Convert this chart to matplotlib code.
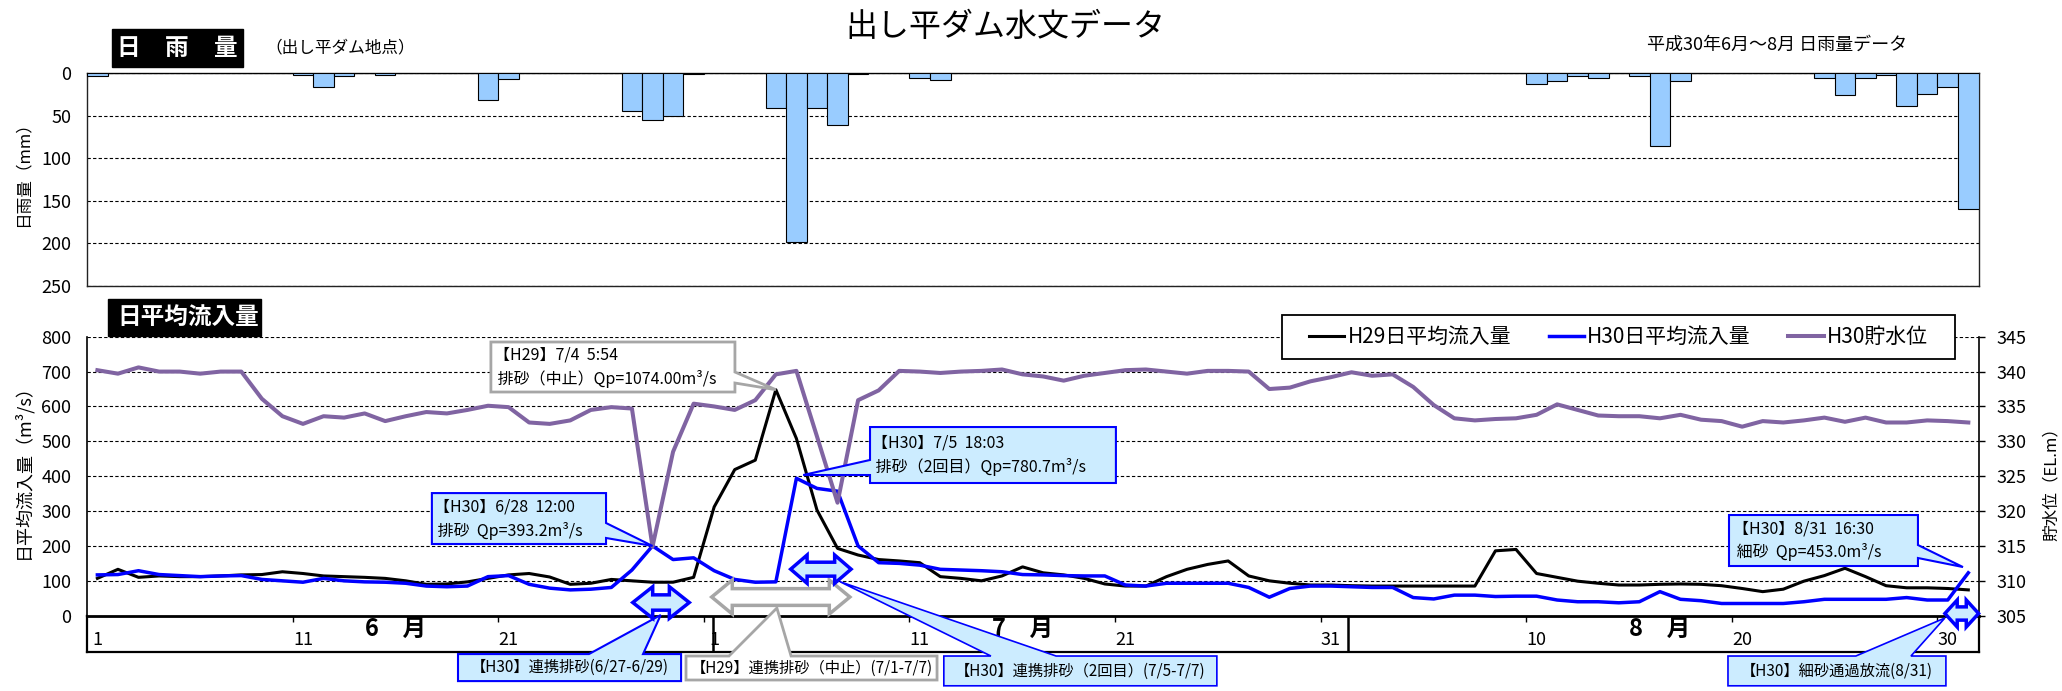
import matplotlib
matplotlib.use('Agg')
import matplotlib.pyplot as plt
from matplotlib.patches import Polygon, Rectangle
import numpy as np

plt.rcParams['font.family'] = ['Noto Sans CJK JP', 'DejaVu Sans']

# ---- data (6/1 - 8/31, daily) ----
rain_jun = [3, 0, 0, 0, 0, 0, 0, 0, 0, 0, 1.5, 16, 3, 0, 1.5, 0, 0, 0, 0, 31,
            7, 0, 0, 0, 0, 0, 44, 55, 50, 1]
rain_jul = [0, 0, 0, 41, 198, 41, 61, 1, 0, 0, 6, 8, 0, 0, 0, 0, 0, 0, 0, 0,
            0, 0, 0, 0, 0, 0, 0, 0, 0, 0, 0]
rain_aug = [0, 0, 0, 0, 0, 0, 0, 0, 0, 12, 9, 3, 5, 0, 3, 86, 9, 0, 0, 0,
            0, 0, 0, 6, 26, 6, 1.5, 39, 24, 16, 160]

h29_jun = [107, 133, 110, 114, 112, 112, 114, 117, 118, 126, 121, 114, 112, 110, 107,
           100, 90, 91, 97, 107, 117, 121, 111, 90, 93, 104, 100, 96, 96, 110]
h29_jul = [312, 419, 446, 648, 508, 303, 193, 174, 161, 157, 152, 112, 107, 100, 114,
           140, 123, 117, 107, 91, 85, 85, 112, 133, 147, 157, 114, 100, 93, 88, 88]
h29_aug = [86, 85, 85, 85, 85, 85, 85, 186, 190, 121, 110, 99, 93, 88, 88, 90,
           91, 90, 86, 78, 69, 76, 99, 115, 136, 112, 86, 80, 80, 78, 74]

h30_jun = [117, 118, 129, 118, 115, 112, 114, 115, 104, 100, 96, 107, 100, 97, 96,
           93, 85, 83, 85, 112, 115, 90, 79, 74, 76, 81, 131, 200, 161, 166]
h30_jul = [129, 104, 96, 97, 394, 365, 357, 200, 152, 150, 145, 133, 131, 129, 126,
           118, 117, 115, 114, 114, 88, 85, 93, 93, 93, 93, 81, 53, 78, 85, 85]
h30_aug = [83, 81, 81, 52, 48, 59, 59, 55, 56, 56, 45, 40, 40, 37, 40, 69,
           47, 43, 35, 35, 35, 35, 40, 47, 47, 47, 47, 52, 45, 45, 123]

lev_jun = [340.2, 339.7, 340.6, 340.0, 340.0, 339.7, 340.0, 340.0, 336.1, 333.6,
           332.5, 333.6, 333.4, 334.0, 332.9, 333.6, 334.2, 334.0, 334.5, 335.1,
           334.9, 332.7, 332.5, 333.0, 334.5, 334.9, 334.7, 314.9, 328.5, 335.4]
lev_jul = [335.0, 334.5, 335.9, 339.6, 340.1, 330.7, 321.2, 335.9, 337.3, 340.1,
           340.0, 339.8, 340.0, 340.1, 340.3, 339.6, 339.3, 338.7, 339.4, 339.8,
           340.2, 340.3, 340.0, 339.7, 340.1, 340.1, 340.0, 337.5, 337.7, 338.6, 339.2]
lev_aug = [339.9, 339.4, 339.6, 337.8, 335.2, 333.3, 333.0, 333.2, 333.3, 333.8,
           335.3, 334.5, 333.7, 333.6, 333.6, 333.3, 333.8, 333.1, 332.9, 332.1,
           332.9, 332.7, 333.0, 333.4, 332.8, 333.4, 332.7, 332.7, 333.0, 332.9, 332.7]

rain = rain_jun + rain_jul + rain_aug
h29 = h29_jun + h29_jul + h29_aug
h30 = h30_jun + h30_jul + h30_aug
level = lev_jun + lev_jul + lev_aug

tick_days = [0, 10, 20, 30, 40, 50, 60, 70, 80, 90]
tick_labels = ['1', '11', '21', '1', '11', '21', '31', '10', '20', '30']
months = ['6　月', '7　月', '8　月']
month_mid = [14.5, 45.0, 76.0]

BLUE = '#0000FF'
PURPLE = '#8064A2'
GRAY = '#A6A6A6'
LBLUE = '#CCECFF'

# ---- layout helpers (pixel -> figure fraction) ----
W, H = 2062, 691
def fx(p):
    return p / W
def fy(p):
    return 1 - p / H

fig = plt.figure(figsize=(W / 100, H / 100), dpi=100)
L, R = 87.1, 1978.6
days = np.arange(len(rain))
xlim = (-0.5, len(rain) - 0.5)

ax_b = fig.add_axes([fx(L), fy(651.7), fx(R) - fx(L), 36 / H])
ax_r = fig.add_axes([fx(L), fy(286), fx(R) - fx(L), (286 - 73.3) / H])
ax_q = fig.add_axes([fx(L), fy(615.7), fx(R) - fx(L), (615.7 - 336.7) / H])
ax_l = ax_q.twinx()

dash = (0, (3, 2))

# ---- rainfall ----
ax_r.bar(days, rain, width=1.0, color='#99CCFF', edgecolor='black', linewidth=0.8, zorder=3)
ax_r.set_xlim(xlim)
ax_r.set_ylim(250, 0)
ax_r.set_yticks(range(0, 251, 50))
ax_r.set_xticks([])
ax_r.tick_params(axis='y', length=0, pad=11.5, labelsize=13)
ax_r.yaxis.grid(True, linestyle=dash, color='black', linewidth=0.8)
for s in ax_r.spines.values():
    s.set_linewidth(1.0)
    s.set_color('#222222')

# ---- inflow / level ----
l1, = ax_q.plot(days, h29, color='black', lw=2.2, label='H29日平均流入量')
l2, = ax_q.plot(days, h30, color=BLUE, lw=2.5, label='H30日平均流入量')
l3, = ax_l.plot(days, level, color=PURPLE, lw=2.9, label='H30貯水位')

ax_q.set_xlim(xlim)
ax_q.set_ylim(0, 800)
ax_q.set_yticks(range(0, 801, 100))
ax_q.set_xticks([])
ax_q.tick_params(axis='y', length=0, pad=11.5, labelsize=13)
ax_q.yaxis.grid(True, linestyle=dash, color='black', linewidth=0.8)
ax_q.spines['top'].set_visible(False)
ax_q.spines['right'].set_visible(False)
ax_q.spines['left'].set_linewidth(1.2)
ax_q.spines['bottom'].set_linewidth(2.0)

ax_l.set_ylim(305, 345)
ax_l.set_yticks(range(305, 346, 5))
ax_l.tick_params(axis='y', length=4.5, width=1, pad=8.5, labelsize=13)
for k in ['top', 'left', 'bottom']:
    ax_l.spines[k].set_visible(False)
ax_l.spines['right'].set_linewidth(1.2)

# ---- date band ----
ax_b.set_xlim(xlim)
ax_b.set_ylim(0, 1)
ax_b.set_yticks([])
ax_b.set_xticks([d - 0.5 for d in tick_days[1:]])
ax_b.tick_params(axis='x', top=True, bottom=False, direction='in', length=4, width=1,
                 labelbottom=False)
for s in ax_b.spines.values():
    s.set_linewidth(1.6)
for d, t in zip(tick_days, tick_labels):
    ax_b.text(d, 0.32, t, ha='center', va='center', fontsize=13)
for m, x in zip(months, month_mid):
    ax_b.text(x, 0.62, m, ha='center', va='center', fontsize=17, fontweight='bold')
ax_b.axvline(29.95, color='black', lw=1.8)
ax_b.axvline(60.81, color='black', lw=1.8)

# ---- titles / headers ----
fig.text(fx(1005), fy(27), '出し平ダム水文データ', fontsize=23, ha='center', va='center')
fig.text(fx(1777), fy(45), '平成30年6月～8月 日雨量データ', fontsize=13, ha='center', va='center')
fig.text(fx(340), fy(48), '（出し平ダム地点）', fontsize=12, ha='center', va='center')
fig.add_artist(Rectangle((fx(112), fy(67)), fx(243) - fx(112), 38 / H,
                         transform=fig.transFigure, color='black'))
for ch, x in zip(['日', '雨', '量'], [128, 177, 226]):
    fig.text(fx(x), fy(48), ch, color='white', fontsize=17, fontweight='bold',
             ha='center', va='center')
fig.add_artist(Rectangle((fx(108), fy(336)), fx(261) - fx(108), 37 / H,
                         transform=fig.transFigure, color='black'))
fig.text(fx(188), fy(318), '日平均流入量', color='white', fontsize=17, fontweight='bold',
         ha='center', va='center')

fig.text(fx(23), fy(170), '日雨量（mm）', rotation=90, fontsize=12, ha='center', va='center')
fig.text(fx(23), fy(467), '日平均流入量（m³/s）', rotation=90, fontsize=13, ha='center', va='center')
fig.text(fx(2051), fy(480), '貯水位（EL.m）', rotation=90, fontsize=12, ha='center', va='center')

# ---- legend ----
ax_l.add_patch(Rectangle((fx(1282), fy(359)), fx(1955) - fx(1282), 44 / H,
                         transform=fig.transFigure, fc='white', ec='black', lw=1.3,
                         zorder=5.5, clip_on=False))
leg = ax_l.legend([l1, l2, l3], [l1.get_label(), l2.get_label(), l3.get_label()],
                  loc='center', bbox_to_anchor=(fx(1618.5), fy(337)),
                  bbox_transform=fig.transFigure, ncol=3, fontsize=15, frameon=False,
                  handlelength=1.7, handletextpad=0.15, columnspacing=1.8)
leg.set_zorder(6)

# ---- callouts ----
def callout(x0, x1, y0, y1, side, a, b, tip, fc, ec, lw=1.5):
    if side == 'right':
        pts = [(x0, y0), (x1, y0), (x1, a), tip, (x1, b), (x1, y1), (x0, y1)]
    elif side == 'left':
        pts = [(x0, y0), (x1, y0), (x1, y1), (x0, y1), (x0, b), tip, (x0, a)]
    else:
        pts = [(x0, y0), (x1, y0), (x1, y1), (b, y1), tip, (a, y1), (x0, y1)]
    ax_l.add_patch(Polygon(pts, closed=True, fc=fc, ec=ec, lw=lw, joinstyle='miter',
                           transform=ax_q.transData, clip_on=False, zorder=4))

def darrow(x0, x1, yc, hh, sh, hl, fc, ec, z=4.5):
    pts = [(x0, yc), (x0 + hl, yc + hh), (x0 + hl, yc + sh), (x1 - hl, yc + sh),
           (x1 - hl, yc + hh), (x1, yc), (x1 - hl, yc - hh), (x1 - hl, yc - sh),
           (x0 + hl, yc - sh), (x0 + hl, yc - hh)]
    ax_l.add_patch(Polygon(pts, closed=True, fc=fc, ec=ec, lw=2.5, joinstyle='miter',
                           transform=ax_q.transData, clip_on=False, zorder=z))

def ctext(x, y, s, ha='left', size=11.5):
    ax_l.text(x, y, s, ha=ha, va='center', fontsize=size, linespacing=1.45,
              transform=ax_q.transData, zorder=5, clip_on=False)

callout(19.14, 31.01, 641.4, 784.8, 'right', 667.2, 698.7, (33, h29[33]), 'white', GRAY, 2.0)
ctext(19.3, 713, '【H29】7/4  5:54\n 排砂（中止）Qp=1074.00m³/s')

callout(16.27, 24.74, 205.6, 351.6, 'right', 222.8, 265.8, (27, h30[27]), LBLUE, BLUE)
ctext(16.35, 277, '【H30】6/28  12:00\n 排砂  Qp=393.2m³/s')

callout(37.58, 49.54, 380.5, 541, 'left', 403.4, 446.5, (34.33, 403.4), LBLUE, BLUE)
ctext(37.7, 459, '【H30】7/5  18:03\n 排砂（2回目）Qp=780.7m³/s')

callout(79.36, 88.55, 142.5, 288.7, 'right', 165.4, 202.7, (90.74, 139.5), LBLUE, BLUE)
ctext(79.55, 215, '【H30】8/31  16:30\n 細砂  Qp=453.0m³/s')

callout(17.54, 28.39, -187.5, -110, 'top', 23.91, 26.54, (27.4, 2), LBLUE, BLUE)
ctext(22.96, -149, '【H30】連携排砂(6/27-6/29)', ha='center', size=11)

callout(28.63, 40.84, -184.4, -115.6, 'top', 30.72, 33.74, (33.05, 22), 'white', GRAY, 2.0)
ctext(34.73, -150, '【H29】連携排砂（中止）(7/1-7/7)', ha='center', size=11)

callout(41.17, 54.45, -201, -115.6, 'top', 43.46, 46.63, (36.12, 97.5), LBLUE, BLUE, 1.2)
ctext(47.8, -160, '【H30】連携排砂（2回目）(7/5-7/7)', ha='center', size=11)

callout(79.31, 89.91, -201, -115.6, 'top', 85.53, 88.21, (89.86, -6.6), LBLUE, BLUE, 1.2)
ctext(84.6, -160, '【H30】細砂通過放流(8/31)', ha='center', size=11)

darrow(29.88, 36.6, 53.6, 48.7, 24, 1.0, 'white', GRAY)
darrow(26.04, 28.79, 37.8, 45.3, 22, 0.97, LBLUE, BLUE)
darrow(33.72, 36.66, 133.4, 40.6, 20, 0.8, LBLUE, BLUE)
darrow(89.86, 91.5, 6.3, 38.7, 19, 0.6, LBLUE, BLUE)

fig.savefig('out.png', dpi=100)
